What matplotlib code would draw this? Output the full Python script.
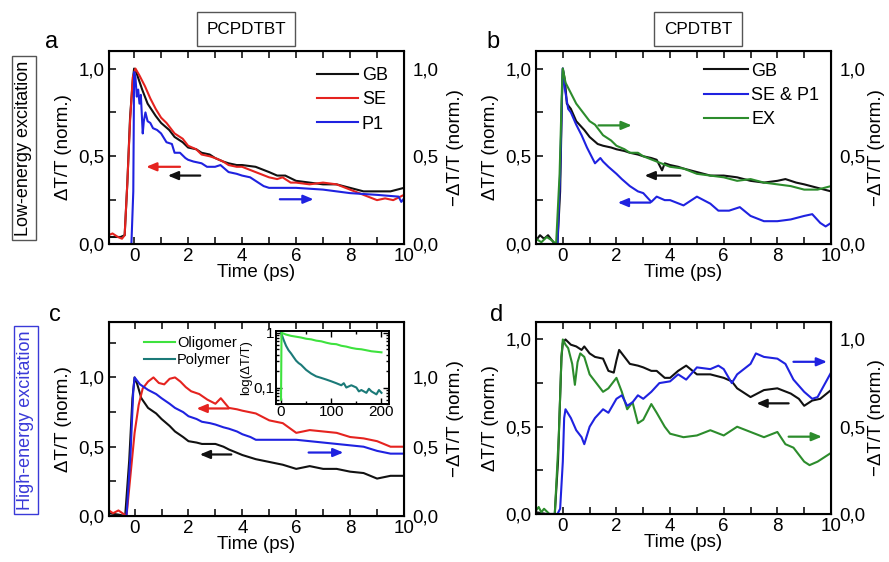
import matplotlib
matplotlib.use("Agg")
import matplotlib.pyplot as plt
from matplotlib.ticker import MultipleLocator, FuncFormatter, LogLocator, NullFormatter

plt.rcParams['font.family'] = ['Liberation Sans', 'DejaVu Sans']
plt.rcParams['axes.unicode_minus'] = True

# ---------------- data ----------------
# Panel a (PCPDTBT, low-energy)
a_gb_t = [-0.95, -0.7, -0.5, -0.35, -0.25, -0.15, -0.05, 0.0, 0.1, 0.3, 0.5, 0.8, 1.0, 1.3, 1.5, 1.8, 2.0, 2.3, 2.5, 2.8, 3.0, 3.3, 3.5, 3.8, 4.0, 4.5, 5.0, 5.3, 5.6, 6.0, 6.5, 7.0, 7.5, 8.0, 8.5, 9.0, 9.5, 10.0]
a_gb_v = [0.04, 0.04, 0.04, 0.05, 0.35, 0.72, 0.93, 1.0, 0.97, 0.88, 0.80, 0.73, 0.69, 0.65, 0.61, 0.58, 0.55, 0.54, 0.52, 0.51, 0.49, 0.47, 0.46, 0.45, 0.45, 0.44, 0.41, 0.39, 0.39, 0.36, 0.35, 0.34, 0.34, 0.32, 0.30, 0.30, 0.30, 0.32]
a_se_t = [-0.95, -0.8, -0.6, -0.45, -0.35, -0.25, -0.15, -0.05, 0.05, 0.2, 0.4, 0.6, 0.8, 1.0, 1.2, 1.5, 1.8, 2.0, 2.3, 2.5, 2.8, 3.0, 3.3, 3.5, 3.8, 4.0, 4.5, 5.0, 5.3, 5.5, 5.8, 6.0, 6.5, 7.0, 7.5, 8.0, 8.5, 9.0, 9.3, 9.6, 10.0]
a_se_v = [0.05, 0.06, 0.04, 0.03, 0.05, 0.35, 0.70, 0.95, 1.0, 0.96, 0.90, 0.83, 0.77, 0.72, 0.69, 0.63, 0.60, 0.56, 0.54, 0.51, 0.50, 0.49, 0.47, 0.45, 0.44, 0.44, 0.41, 0.38, 0.37, 0.38, 0.35, 0.35, 0.34, 0.35, 0.34, 0.31, 0.28, 0.25, 0.26, 0.25, 0.28]
a_p1_t = [-0.95, -0.4, -0.1, -0.03, 0.0, 0.05, 0.1, 0.15, 0.2, 0.25, 0.32, 0.36, 0.42, 0.5, 0.6, 0.7, 0.85, 1.0, 1.2, 1.4, 1.5, 1.7, 1.9, 2.0, 2.2, 2.5, 2.7, 3.0, 3.2, 3.5, 3.8, 4.0, 4.3, 4.6, 4.8, 5.0, 6.0, 7.0, 8.0, 9.0, 9.8, 9.9, 10.0]
a_p1_v = [0.0, 0.0, 0.0, 0.3, 0.98, 0.95, 0.84, 0.88, 0.80, 0.85, 0.63, 0.70, 0.75, 0.70, 0.69, 0.66, 0.65, 0.63, 0.58, 0.57, 0.52, 0.52, 0.49, 0.48, 0.47, 0.46, 0.44, 0.44, 0.45, 0.41, 0.40, 0.39, 0.38, 0.35, 0.33, 0.32, 0.32, 0.31, 0.29, 0.28, 0.27, 0.24, 0.26]

# Panel b (CPDTBT, low-energy)
b_gb_t = [-1.0, -0.85, -0.7, -0.55, -0.4, -0.3, -0.2, -0.1, -0.03, 0.0, 0.08, 0.15, 0.3, 0.5, 0.8, 1.0, 1.3, 1.5, 1.8, 2.0, 2.3, 2.5, 2.8, 3.0, 3.3, 3.5, 3.7, 3.8, 4.0, 4.3, 4.5, 5.0, 5.5, 6.0, 6.5, 7.0, 7.5, 8.0, 8.3, 8.7, 9.0, 9.5, 10.0]
b_gb_v = [0.02, 0.05, 0.03, 0.05, 0.02, 0.0, 0.0, 0.3, 0.85, 1.0, 0.93, 0.80, 0.77, 0.70, 0.65, 0.61, 0.57, 0.56, 0.55, 0.54, 0.53, 0.52, 0.51, 0.50, 0.49, 0.48, 0.42, 0.46, 0.45, 0.44, 0.43, 0.41, 0.39, 0.39, 0.38, 0.36, 0.35, 0.36, 0.37, 0.35, 0.34, 0.32, 0.30]
b_ex_t = [-1.0, -0.8, -0.6, -0.4, -0.25, -0.12, -0.03, 0.0, 0.1, 0.3, 0.5, 0.8, 1.0, 1.2, 1.5, 1.8, 2.0, 2.3, 2.5, 2.8, 3.0, 3.5, 4.0, 4.5, 5.0, 5.5, 6.0, 6.5, 7.0, 7.5, 8.0, 8.5, 9.0, 9.5, 10.0]
b_ex_v = [0.03, 0.01, 0.04, 0.02, 0.0, 0.4, 0.9, 1.0, 0.92, 0.86, 0.80, 0.74, 0.70, 0.68, 0.62, 0.59, 0.56, 0.54, 0.52, 0.52, 0.50, 0.47, 0.44, 0.43, 0.40, 0.39, 0.38, 0.36, 0.37, 0.35, 0.34, 0.33, 0.31, 0.31, 0.33]
b_se_t = [-1.0, -0.7, -0.4, -0.2, -0.1, -0.03, 0.0, 0.08, 0.2, 0.3, 0.5, 0.7, 0.9, 1.0, 1.2, 1.4, 1.5, 1.7, 2.0, 2.2, 2.5, 2.8, 3.0, 3.3, 3.5, 3.8, 4.0, 4.5, 5.0, 5.5, 5.8, 6.2, 6.6, 7.0, 7.5, 8.0, 8.5, 9.0, 9.3, 9.6, 9.8, 10.0]
b_se_v = [0.0, 0.0, 0.0, 0.0, 0.4, 0.85, 1.0, 0.88, 0.77, 0.75, 0.68, 0.62, 0.55, 0.52, 0.46, 0.49, 0.47, 0.44, 0.40, 0.37, 0.33, 0.30, 0.29, 0.24, 0.27, 0.25, 0.25, 0.22, 0.27, 0.23, 0.19, 0.19, 0.21, 0.16, 0.13, 0.13, 0.14, 0.16, 0.17, 0.12, 0.10, 0.12]

# Panel c (PCPDTBT, high-energy)
c_gb_t = [-0.95, -0.6, -0.35, -0.2, -0.08, 0.0, 0.1, 0.25, 0.5, 0.8, 1.0, 1.3, 1.5, 1.8, 2.0, 2.3, 2.5, 3.0, 3.3, 3.5, 4.0, 4.5, 5.0, 5.5, 6.0, 6.5, 7.0, 7.5, 8.0, 8.5, 9.0, 9.5, 10.0]
c_gb_v = [0.02, 0.01, 0.0, 0.4, 0.85, 1.0, 0.95, 0.85, 0.78, 0.74, 0.70, 0.65, 0.61, 0.57, 0.54, 0.53, 0.52, 0.52, 0.50, 0.48, 0.44, 0.41, 0.39, 0.37, 0.34, 0.36, 0.34, 0.34, 0.32, 0.31, 0.27, 0.29, 0.29]
c_se_t = [-0.95, -0.8, -0.6, -0.45, -0.3, -0.15, 0.0, 0.15, 0.3, 0.5, 0.7, 0.9, 1.1, 1.3, 1.5, 1.7, 1.9, 2.1, 2.4, 2.7, 3.0, 3.2, 3.5, 3.8, 4.0, 4.5, 5.0, 5.5, 6.0, 6.5, 7.0, 7.5, 8.0, 8.5, 9.0, 9.5, 10.0]
c_se_v = [0.04, 0.02, 0.04, 0.02, 0.0, 0.3, 0.6, 0.80, 0.92, 0.97, 1.0, 0.96, 0.95, 0.99, 1.0, 0.97, 0.93, 0.90, 0.88, 0.84, 0.81, 0.85, 0.78, 0.77, 0.76, 0.74, 0.69, 0.67, 0.60, 0.62, 0.61, 0.60, 0.57, 0.56, 0.54, 0.50, 0.50]
c_p1_t = [-0.95, -0.5, -0.3, -0.15, -0.05, 0.0, 0.2, 0.5, 0.8, 1.0, 1.3, 1.5, 1.8, 2.0, 2.3, 2.5, 2.8, 3.0, 3.3, 3.5, 3.8, 4.0, 4.3, 4.5, 5.0, 5.5, 6.0, 6.5, 7.0, 7.5, 8.0, 8.5, 9.0, 9.5, 10.0]
c_p1_v = [0.0, 0.0, 0.0, 0.45, 0.9, 1.0, 0.95, 0.91, 0.88, 0.85, 0.81, 0.78, 0.75, 0.72, 0.70, 0.68, 0.67, 0.66, 0.64, 0.63, 0.61, 0.59, 0.57, 0.55, 0.55, 0.55, 0.55, 0.54, 0.53, 0.52, 0.51, 0.50, 0.47, 0.45, 0.45]

# Inset of c (log scale, long times)
ins_olig_t = [0, 1, 5, 10, 20, 30, 40, 50, 60, 70, 80, 90, 100, 110, 120, 130, 140, 150, 160, 170, 180, 190, 200]
ins_olig_v = [0.06, 1.0, 0.97, 0.93, 0.88, 0.85, 0.82, 0.78, 0.76, 0.72, 0.70, 0.66, 0.63, 0.62, 0.58, 0.56, 0.53, 0.51, 0.50, 0.48, 0.46, 0.45, 0.44]
ins_poly_t = [0, 2, 5, 10, 15, 20, 25, 30, 35, 40, 50, 60, 70, 80, 90, 100, 110, 120, 125, 130, 140, 150, 155, 160, 170, 175, 180, 190, 195, 200]
ins_poly_v = [1.0, 0.9, 0.75, 0.58, 0.48, 0.42, 0.36, 0.31, 0.28, 0.26, 0.21, 0.18, 0.16, 0.15, 0.14, 0.13, 0.12, 0.11, 0.12, 0.10, 0.11, 0.10, 0.085, 0.09, 0.08, 0.095, 0.085, 0.075, 0.09, 0.08]

# Panel d (CPDTBT, high-energy)
d_gb_t = [-1.0, -0.6, -0.3, -0.18, -0.05, 0.0, 0.1, 0.3, 0.5, 0.7, 0.8, 1.0, 1.2, 1.5, 1.7, 1.9, 2.0, 2.1, 2.3, 2.5, 2.8, 3.0, 3.3, 3.5, 3.8, 4.0, 4.3, 4.6, 5.0, 5.5, 6.0, 6.3, 6.5, 7.0, 7.5, 8.0, 8.5, 8.8, 9.0, 9.3, 9.6, 10.0]
d_gb_v = [0.01, 0.0, 0.0, 0.3, 0.9, 0.98, 1.0, 0.97, 0.96, 0.94, 0.96, 0.92, 0.90, 0.89, 0.82, 0.81, 0.88, 0.94, 0.90, 0.86, 0.85, 0.84, 0.82, 0.82, 0.78, 0.78, 0.82, 0.85, 0.80, 0.80, 0.78, 0.76, 0.72, 0.67, 0.71, 0.72, 0.69, 0.66, 0.62, 0.65, 0.66, 0.71]
d_ex_t = [-1.0, -0.9, -0.8, -0.7, -0.5, -0.3, -0.15, -0.05, 0.0, 0.1, 0.2, 0.35, 0.45, 0.55, 0.65, 0.8, 1.0, 1.2, 1.5, 1.7, 2.0, 2.2, 2.4, 2.6, 2.8, 3.0, 3.3, 3.5, 3.8, 4.0, 4.5, 5.0, 5.5, 6.0, 6.5, 7.0, 7.5, 8.0, 8.3, 8.6, 9.0, 9.2, 9.5, 10.0]
d_ex_v = [0.02, 0.04, 0.01, 0.03, 0.0, 0.0, 0.45, 0.9, 1.0, 0.97, 0.95, 0.86, 0.74, 0.87, 0.92, 0.90, 0.80, 0.76, 0.70, 0.72, 0.78, 0.70, 0.60, 0.64, 0.52, 0.54, 0.63, 0.58, 0.50, 0.46, 0.44, 0.45, 0.48, 0.45, 0.50, 0.47, 0.44, 0.47, 0.40, 0.38, 0.30, 0.28, 0.30, 0.35]
d_p1_t = [-1.0, -0.5, -0.2, -0.1, 0.0, 0.05, 0.1, 0.3, 0.5, 0.7, 0.8, 1.0, 1.2, 1.5, 1.7, 2.0, 2.2, 2.4, 2.6, 2.8, 3.0, 3.3, 3.6, 4.0, 4.3, 4.6, 5.0, 5.5, 5.8, 6.0, 6.3, 6.5, 7.0, 7.2, 7.5, 8.0, 8.3, 8.6, 9.0, 9.3, 9.5, 10.0]
d_p1_v = [0.0, 0.0, 0.0, 0.03, 0.3, 0.55, 0.60, 0.55, 0.48, 0.44, 0.40, 0.50, 0.55, 0.60, 0.58, 0.66, 0.68, 0.62, 0.64, 0.68, 0.66, 0.70, 0.75, 0.76, 0.80, 0.77, 0.84, 0.83, 0.85, 0.83, 0.75, 0.80, 0.86, 0.92, 0.90, 0.89, 0.86, 0.77, 0.70, 0.66, 0.67, 0.81]

# Colors
BLACK = '#111111'
RED = '#e5231f'
BLUE = '#1f22e0'
GREEN = '#2c8c2c'
LGREEN = '#3ee23e'
TEAL = '#1b7a78'

# Axis-indicator arrows: (x_tail, x_head, y, color)
a_arrows = [(1.70, 0.45, 0.44, RED), (2.45, 1.25, 0.39, BLACK), (5.40, 6.65, 0.255, BLUE)]
b_arrows = [(1.33, 2.57, 0.676, GREEN), (4.38, 3.05, 0.39, BLACK), (3.26, 2.05, 0.236, BLUE)]
c_arrows = [(3.49, 2.30, 0.776, RED), (3.59, 2.42, 0.444, BLACK), (6.46, 7.75, 0.458, BLUE)]
d_arrows = [(8.60, 9.85, 0.872, BLUE), (8.42, 7.22, 0.634, BLACK), (8.42, 9.66, 0.443, GREEN)]

W, H = 889, 562
fig = plt.figure(figsize=(W / 100, H / 100), dpi=100)

def px_axes(l, r, t, b):
    return fig.add_axes([l / W, 1 - b / H, (r - l) / W, (b - t) / H])

comma = FuncFormatter(lambda v, p: f"{v:.1f}".replace('.', ','))
TICK_FS = 13.5
LAB_FS = 13.5

def style(ax, xlim, ylim, rpad=6):
    ax.set_xlim(*xlim)
    ax.set_ylim(*ylim)
    ax.xaxis.set_major_locator(MultipleLocator(2))
    ax.xaxis.set_minor_locator(MultipleLocator(1))
    ax.yaxis.set_major_locator(MultipleLocator(0.5))
    ax.yaxis.set_minor_locator(MultipleLocator(0.25))
    ax.yaxis.set_major_formatter(comma)
    ax.tick_params(which='both', direction='in', top=True, right=True,
                   labelsize=TICK_FS, width=1.1, pad=3)
    ax.tick_params(which='major', length=5)
    ax.tick_params(which='minor', length=5)
    for s in ax.spines.values():
        s.set_linewidth(1.5)
    ax.set_xlabel('Time (ps)', fontsize=LAB_FS, labelpad=-1)
    ax.set_ylabel('ΔT/T (norm.)', fontsize=LAB_FS, labelpad=5)
    ax2 = ax.twinx()
    ax2.set_ylim(*ylim)
    ax2.yaxis.set_major_locator(MultipleLocator(0.5))
    ax2.yaxis.set_minor_locator(MultipleLocator(0.25))
    ax2.yaxis.set_major_formatter(comma)
    ax2.tick_params(which='both', direction='in', labelsize=TICK_FS, length=0, pad=6)
    ax2.set_ylabel('−ΔT/T (norm.)', fontsize=LAB_FS, labelpad=rpad)
    return ax2

def arrows(ax, lst):
    for x0, x1, y, c in lst:
        ax.annotate('', xy=(x1, y), xytext=(x0, y),
                    arrowprops=dict(arrowstyle='-|>,head_length=0.6,head_width=0.25',
                                    color=c, lw=1.6, shrinkA=0, shrinkB=0))

LW = 1.5

# Panel a
axa = px_axes(109, 404, 51, 244)
style(axa, (-0.93, 10), (0, 1.1))
axa.plot(a_gb_t, a_gb_v, color=BLACK, lw=LW, label='GB')
axa.plot(a_se_t, a_se_v, color=RED, lw=LW, label='SE')
axa.plot(a_p1_t, a_p1_v, color=BLUE, lw=LW, label='P1')
arrows(axa, a_arrows)
axa.legend(loc='upper right', frameon=False, fontsize=13, handlelength=2.3,
           handletextpad=0.2, labelspacing=0.4, borderaxespad=0.5)

# Panel b
axb = px_axes(536, 831, 51, 244)
style(axb, (-1, 10), (0, 1.1), rpad=2)
axb.plot(b_gb_t, b_gb_v, color=BLACK, lw=LW, label='GB')
axb.plot(b_se_t, b_se_v, color=BLUE, lw=LW, label='SE & P1')
axb.plot(b_ex_t, b_ex_v, color=GREEN, lw=LW, label='EX')
arrows(axb, b_arrows)
axb.legend(loc='upper right', frameon=False, fontsize=13, handlelength=2.4,
           handletextpad=0.2, labelspacing=0.4, borderaxespad=0.25)

# Panel c
axc = px_axes(109, 404, 322, 516)
style(axc, (-0.95, 10), (0, 1.4))
axc.set_yticks([0, 0.5, 1.0])
axc.plot(c_gb_t, c_gb_v, color=BLACK, lw=LW)
axc.plot(c_se_t, c_se_v, color=RED, lw=LW)
axc.plot(c_p1_t, c_p1_v, color=BLUE, lw=LW)
arrows(axc, c_arrows)
# legend lines for the inset series
hl1, = axc.plot([], [], color=LGREEN, lw=LW, label='Oligomer')
hl2, = axc.plot([], [], color=TEAL, lw=LW, label='Polymer')
axc.legend(handles=[hl1, hl2], loc='upper left', frameon=False, fontsize=10.5,
           handlelength=2.1, handletextpad=0.15, labelspacing=0.18,
           bbox_to_anchor=(0.075, 0.995))

# Inset
axi = px_axes(276, 389, 331, 404)
axi.set_yscale('log')
axi.plot(ins_poly_t, ins_poly_v, color=TEAL, lw=LW)
axi.plot(ins_olig_t, ins_olig_v, color=LGREEN, lw=LW)
axi.set_xlim(-10, 215)
axi.set_ylim(0.05, 1.08)
axi.set_xticks([0, 100, 200])
axi.xaxis.set_minor_locator(MultipleLocator(50))
axi.set_yticks([0.1, 1])
axi.set_yticklabels(['0,1', '1'])
axi.yaxis.set_minor_locator(LogLocator(base=10, subs=[2, 3, 4, 5, 6, 7, 8, 9]))
axi.yaxis.set_minor_formatter(NullFormatter())
axi.tick_params(which='both', direction='in', top=True, right=True, labelsize=11,
                width=1.0, pad=1)
axi.tick_params(which='major', length=4)
axi.tick_params(which='minor', length=2.5)
for s in axi.spines.values():
    s.set_linewidth(1.4)
axi.set_ylabel('log(ΔT/T)', fontsize=9.5, labelpad=1)

# Panel d
axd = px_axes(536, 831, 322, 514)
style(axd, (-1, 10), (0, 1.1), rpad=2)
axd.plot(d_gb_t, d_gb_v, color=BLACK, lw=LW)
axd.plot(d_ex_t, d_ex_v, color=GREEN, lw=LW)
axd.plot(d_p1_t, d_p1_v, color=BLUE, lw=LW)
arrows(axd, d_arrows)

# Panel letters
for x, y, s in [(52, 42, 'a'), (493, 42, 'b'), (55, 315, 'c'), (497, 315, 'd')]:
    fig.text(x / W, 1 - y / H, s, fontsize=17, ha='center', va='center')

# Column headers
for x, s in [(246, 'PCPDTBT'), (698, 'CPDTBT')]:
    fig.text(x / W, 1 - 29 / H, s, fontsize=12.3, ha='center', va='center',
             bbox=dict(boxstyle='square,pad=0.55', fc='white', ec='#555555', lw=1.0))

# Row headers
fig.text(24 / W, 1 - 148 / H, 'Low-energy excitation', fontsize=13, rotation=90,
         ha='center', va='center',
         bbox=dict(boxstyle='square,pad=0.22', fc='white', ec='#555555', lw=1.0))
fig.text(26 / W, 1 - 420 / H, 'High-energy excitation', fontsize=13, rotation=90,
         ha='center', va='center', color='#3a3ad8',
         bbox=dict(boxstyle='square,pad=0.22', fc='white', ec='#3a3ad8', lw=1.0))

fig.savefig('out.png', dpi=100)
